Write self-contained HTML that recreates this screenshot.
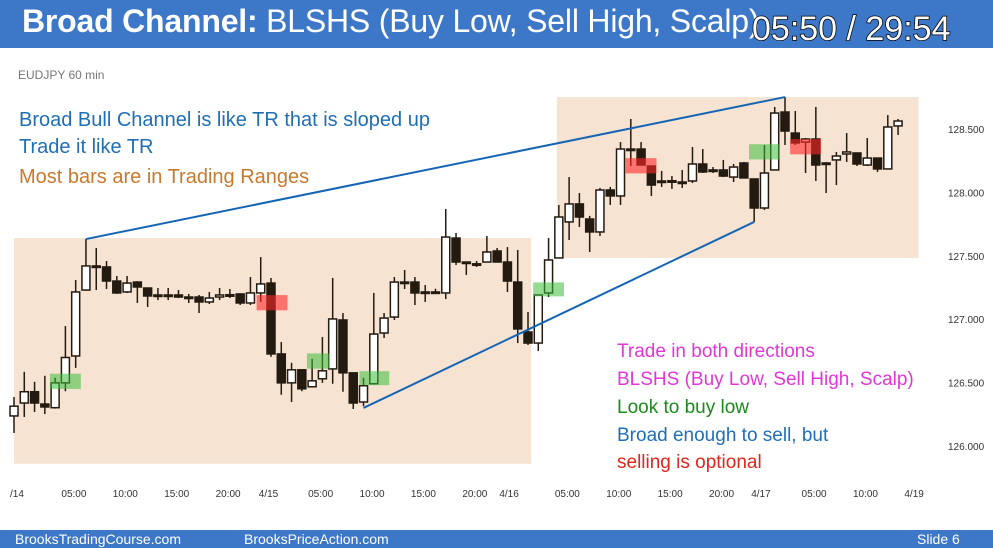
<!DOCTYPE html>
<html><head><meta charset="utf-8"><style>
body{margin:0;width:993px;height:548px;overflow:hidden;background:#fff;font-family:"Liberation Sans",sans-serif}
#hdr{position:absolute;left:0;top:0;width:993px;height:48px;background:#3d77c7}
#title{position:absolute;left:22px;top:3px;color:#fff;font-size:32px;white-space:nowrap;letter-spacing:-0.2px}
#timer{position:absolute;left:752px;top:10px;color:#fff;font-size:34px;-webkit-text-stroke:1.5px #000;paint-order:stroke fill;letter-spacing:0px}
#ftr{position:absolute;left:0;top:530px;width:993px;height:18px;background:#3d77c7;color:#fff;font-size:14px}
.ann{position:absolute;font-size:19px;white-space:nowrap}
.big{font-size:20px}
</style></head><body>
<div id="hdr"></div>
<div id="title"><b>Broad Channel:</b> BLSHS (Buy Low, Sell High, Scalp)</div>
<div id="timer">05:50 / 29:54</div>
<svg id="chart" width="993" height="548" style="position:absolute;left:0;top:0">
<text x="18" y="79" font-size="12" fill="#777">EUDJPY 60 min</text>
</svg>
<div class="ann big" style="left:19px;top:109px;color:#1f6fb5">Broad Bull Channel is like TR that is sloped up</div>
<div class="ann big" style="left:19px;top:136px;color:#1f6fb5">Trade it like TR</div>
<div class="ann big" style="left:19px;top:166px;color:#c8792e">Most bars are in Trading Ranges</div>
<div class="ann" style="left:617px;top:341px;color:#e236d8">Trade in both directions</div>
<div class="ann" style="left:617px;top:369px;color:#e236d8">BLSHS (Buy Low, Sell High, Scalp)</div>
<div class="ann" style="left:617px;top:397px;color:#1a8a1a">Look to buy low</div>
<div class="ann" style="left:617px;top:425px;color:#1f6fb5">Broad enough to sell, but</div>
<div class="ann" style="left:617px;top:452px;color:#e0261c">selling is optional</div>
<div id="ftr">
<span style="position:absolute;left:15px;top:1px">BrooksTradingCourse.com</span>
<span style="position:absolute;left:244px;top:1px">BrooksPriceAction.com</span>
<span style="position:absolute;left:917px;top:1px">Slide 6</span>
</div>
<script>
const opens=[126.237,126.339,126.428,126.331,126.302,126.498,126.710,127.230,127.420,127.412,127.301,127.215,127.293,127.246,127.191,127.190,127.191,127.175,127.175,127.136,127.175,127.191,127.199,127.128,127.207,127.285,126.726,126.498,126.601,126.467,126.530,126.608,126.994,126.577,126.347,126.491,126.891,127.017,127.293,127.293,127.215,127.215,127.207,127.640,127.451,127.435,127.451,127.538,127.451,127.293,126.899,126.812,127.207,127.483,127.767,127.909,127.790,127.688,128.019,127.972,128.342,128.342,128.208,128.090,128.090,128.082,128.090,128.224,128.177,128.177,128.121,128.232,128.106,127.877,128.177,128.634,128.468,128.397,128.421,128.232,128.256,128.303,128.311,128.216,128.271,128.185,128.524];
const highs=[126.386,126.585,126.506,126.554,126.538,126.946,127.309,127.632,127.562,127.459,127.341,127.341,127.300,127.250,127.246,127.246,127.230,127.199,127.191,127.215,127.246,127.238,127.205,127.333,127.490,127.325,126.820,126.656,126.605,126.687,126.860,127.325,127.049,126.580,126.538,127.207,127.049,127.333,127.388,127.333,127.270,127.240,127.869,127.680,127.455,127.459,127.656,127.562,127.569,127.546,127.057,127.195,127.640,127.901,128.121,127.995,127.815,128.035,128.043,128.397,128.579,128.397,128.212,128.169,128.129,128.177,128.358,128.342,128.200,128.256,128.224,128.240,128.110,128.374,128.674,128.752,128.642,128.429,128.674,128.240,128.319,128.468,128.315,128.429,128.275,128.610,128.579];
const lows=[126.103,126.229,126.268,126.252,126.295,126.432,126.616,127.225,127.230,127.238,127.200,127.207,127.128,127.096,127.151,127.151,127.167,127.128,127.049,127.120,127.151,127.167,127.112,127.112,127.136,126.703,126.404,126.347,126.432,126.465,126.498,126.491,126.428,126.292,126.314,126.488,126.852,126.994,127.238,127.112,127.136,127.199,127.159,127.427,127.349,127.412,127.448,127.448,127.215,126.812,126.797,126.749,127.175,127.480,127.625,127.727,127.530,127.656,127.901,127.901,128.208,128.213,127.972,128.043,128.027,128.035,128.074,128.153,128.153,128.121,128.082,128.110,127.767,127.861,128.175,128.374,128.374,128.153,128.090,127.995,128.058,128.240,128.208,128.208,128.161,128.180,128.453];
const closes=[126.314,126.428,126.339,126.308,126.498,126.698,127.215,127.420,127.412,127.301,127.207,127.285,127.254,127.183,127.188,127.191,127.175,127.173,127.136,127.167,127.191,127.193,127.128,127.207,127.278,126.726,126.498,126.601,126.451,126.514,126.593,127.002,126.577,126.339,126.475,126.883,127.009,127.293,127.290,127.207,127.212,127.213,127.648,127.451,127.450,127.437,127.530,127.451,127.301,126.923,126.812,127.191,127.467,127.806,127.909,127.806,127.688,128.019,127.972,128.342,128.340,128.216,128.058,128.088,128.092,128.080,128.224,128.161,128.175,128.129,128.200,128.114,127.877,128.153,128.626,128.484,128.390,128.421,128.216,128.230,128.287,128.319,128.224,128.271,128.185,128.516,128.563];
const yTicks=[128.5,128.0,127.5,127.0,126.5,126.0];
const xTickLabels=["/14","05:00","10:00","15:00","20:00","4/15","05:00","10:00","15:00","20:00","4/16","05:00","10:00","15:00","20:00","4/17","05:00","10:00","4/19"];
const xTickBars=[0,5,10,15,20,24.2,29,34,39,44,47.6,53,58,63,68,72.1,77,82,87];
const greenBoxes=[[3.5,6.5,126.57,126.45],[28.5,30.7,126.73,126.61],[33.6,36.5,126.59,126.48],[50.5,53.5,127.29,127.18],[71.5,74.5,128.38,128.26]];
const redBoxes=[[23.6,26.6,127.19,127.07],[59.5,62.5,128.27,128.15],[75.5,78.5,128.42,128.30]];
const zoneRanges=[[0,50.3,127.640,125.86],[52.8,88,128.752,127.483]];
const channelLines=[[7,127.632,75,128.752],[34,126.30,72,127.767]];

const NS="http://www.w3.org/2000/svg";
const svg=document.getElementById('chart');
const X=i=>14+i*10.28;
const Y=p=>129+(128.5-p)*126.8;
function mk(t,a){const e=document.createElementNS(NS,t);for(const k in a)e.setAttribute(k,a[k]);svg.appendChild(e);return e;}
zoneRanges.forEach(z=>{const e=mk('rect',{x:X(z[0]),y:Y(z[2]),width:X(z[1])-X(z[0]),height:Y(z[3])-Y(z[2]),fill:'#f6e3d2'});

});
yTicks.forEach(v=>{const t=mk('text',{x:948,y:Y(v)+4,'font-size':10,fill:'#333'});t.textContent=v.toFixed(3);

});
xTickLabels.forEach((l,i)=>{const t=mk('text',{x:X(xTickBars[i])-4,y:497,'font-size':10,fill:'#333','text-anchor':'start'});t.textContent=l;

});
for(let i=0;i<opens.length;i++){
 const x=X(i),o=opens[i],c=closes[i],bull=c>=o;
 const g=document.createElementNS(NS,'g');svg.appendChild(g);
 
 
 const l=document.createElementNS(NS,'line');
 l.setAttribute('x1',x);l.setAttribute('x2',x);l.setAttribute('y1',Y(highs[i]));l.setAttribute('y2',Y(lows[i]));
 l.setAttribute('stroke','#231a10');l.setAttribute('stroke-width','1.5');g.appendChild(l);
 const top=Y(Math.max(o,c)),h=Math.max(Math.abs(Y(o)-Y(c)),1.5);
 const r=document.createElementNS(NS,'rect');
 r.setAttribute('x',x-4);r.setAttribute('y',top);r.setAttribute('width',8);r.setAttribute('height',h);
 r.setAttribute('fill',bull?'#fff':'#231a10');r.setAttribute('stroke','#231a10');r.setAttribute('stroke-width','1.5');g.appendChild(r);
}
greenBoxes.forEach(b=>{const e=mk('rect',{x:X(b[0]),y:Y(b[2]),width:X(b[1])-X(b[0]),height:Y(b[3])-Y(b[2]),fill:'rgba(60,190,60,0.55)'});

});
redBoxes.forEach(b=>{const e=mk('rect',{x:X(b[0]),y:Y(b[2]),width:X(b[1])-X(b[0]),height:Y(b[3])-Y(b[2]),fill:'rgba(255,40,40,0.6)'});

});
channelLines.forEach(c=>{const e=mk('line',{x1:X(c[0]),y1:Y(c[1]),x2:X(c[2]),y2:Y(c[3]),stroke:'#1565b5','stroke-width':2});

});
</script>
</body></html>
